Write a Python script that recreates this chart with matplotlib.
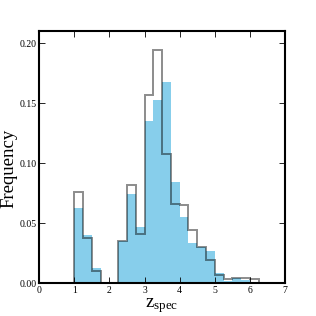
import numpy as np
import matplotlib
matplotlib.use('Agg')
import matplotlib.pyplot as plt

plt.rcParams['font.family'] = ['Liberation Serif', 'DejaVu Serif']
plt.rcParams['mathtext.fontset'] = 'custom'
plt.rcParams['mathtext.rm'] = 'Liberation Serif'

#==================== DATOS ====================

bin_edges = np.arange(0.5, 6.26, 0.25)

# histograma relleno (azul)
freq_fill = [0.0014, 0.0014, 0.063, 0.040, 0.0125, 0.0, 0.0, 0.0353,
             0.0747, 0.047, 0.135, 0.153, 0.168, 0.0847, 0.0553, 0.0334,
             0.0306, 0.0265, 0.0083, 0.0019, 0.0042, 0.0028, 0.0]

# histograma contorno (gris)
freq_step = [0.0, 0.0, 0.0764, 0.038, 0.0103, 0.0, 0.0, 0.0353,
             0.082, 0.041, 0.157, 0.194, 0.108, 0.066, 0.065, 0.0444,
             0.0306, 0.0194, 0.0067, 0.0033, 0.0047, 0.0047, 0.0036]

x_ticks = [0, 1, 2, 3, 4, 5, 6, 7]
y_ticks = [0.00, 0.05, 0.10, 0.15, 0.20]

#==================== FIGURA ====================

fig = plt.figure(figsize=(3.16, 3.16), dpi=100)
ax = fig.add_axes([0.124, 0.1035, 0.778, 0.798])

ax.stairs(freq_fill, bin_edges, fill=True, color='skyblue', lw=0)
ax.stairs(freq_step, bin_edges, baseline=0, color='k', alpha=0.45, lw=1.4)

ax.set_xlim(0, 7)
ax.set_ylim(0, 0.21)
ax.set_xticks(x_ticks)
ax.set_yticks(y_ticks)
ax.set_yticklabels(['%.2f' % v for v in y_ticks])

ax.tick_params(direction='in', top=True, right=True, length=4, width=0.6,
               labelsize=7, pad=2)
for s in ax.spines.values():
    s.set_linewidth(1.5)

ax.set_xlabel(r'$\mathrm{z_{spec}}$', fontsize=13.5, labelpad=1)
ax.set_ylabel('Frequency', fontsize=13.5)
ax.yaxis.label.set_va('center')
ax.yaxis.set_label_coords(-0.122, 0.455)

fig.savefig('out.png', dpi=100)
